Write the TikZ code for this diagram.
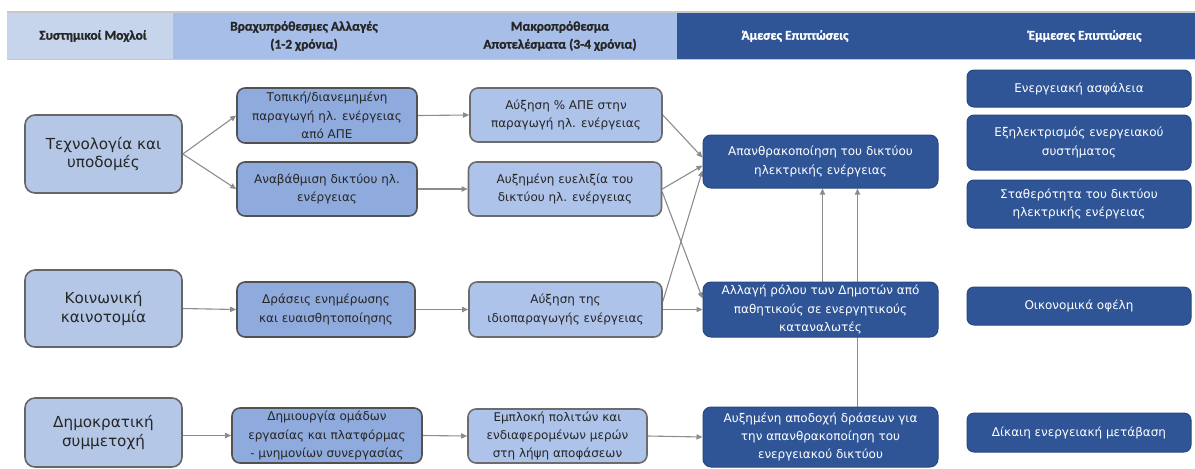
\documentclass[tikz,border=0pt]{standalone}
\usepackage{fontspec}
\setmainfont{DejaVu Sans}
\newfontfamily\headfont{Carlito Bold}[FakeBold=1.2]
\usetikzlibrary{arrows.meta,calc,backgrounds}

\definecolor{headlight}{HTML}{C6D5EC}
\definecolor{headmid}{HTML}{A7BFE8}
\definecolor{navy}{HTML}{2F5597}
\definecolor{leverfill}{HTML}{B4C7E7}
\definecolor{shortfill}{HTML}{8FAADC}
\definecolor{longfill}{HTML}{ADC3EA}
\definecolor{darktext}{HTML}{262626}
\definecolor{linkgray}{HTML}{8C8C8C}
\definecolor{rulegray}{HTML}{C8C8C8}

\tikzset{
  headlabel/.style={font=\headfont\fontsize{6.7}{9}\selectfont, align=center, inner sep=0pt},
  boxbase/.style={align=center, inner sep=1pt, font=\fontsize{6}{9.2}\selectfont},
  lever/.style={boxbase, rounded corners=5pt, draw=gray!80!black, line width=0.8pt,
    fill=leverfill, text=darktext, font=\fontsize{7.6}{9.4}\selectfont},
  shortterm/.style={boxbase, rounded corners=4pt, draw=darktext!80, line width=0.8pt,
    fill=shortfill, text=darktext},
  longterm/.style={boxbase, rounded corners=4pt, draw=gray!85!black, line width=0.8pt,
    fill=longfill, text=darktext},
  direct/.style={boxbase, rounded corners=4pt, draw=navy!85!black, line width=0.5pt,
    fill=navy, text=white},
  indirect/.style={boxbase, rounded corners=3.5pt, draw=navy!85!black, line width=0.5pt,
    fill=navy, text=white},
  link/.style={draw=linkgray, line width=0.55pt, -{Triangle[length=3pt,width=2.6pt]}},
}

\begin{document}
\begin{tikzpicture}[x=0.5pt,y=-0.5pt]
\useasboundingbox (0,0) rectangle (1195,468);

% header band
\fill[headlight] (7,12) rectangle (173,59);
\fill[headmid] (173,12) rectangle (677,59);
\fill[navy] (677,12) rectangle (907,59);
\fill[navy] (907,13) rectangle (1195,59);
\draw[rulegray, line width=0.8pt] (7,12) -- (1195,12);
\draw[rulegray, line width=0.8pt] (7,59.5) -- (1195,59.5);

\node[headlabel, text=darktext] (h1) at (93,36) {Συστημικοί Μοχλοί};
\node[headlabel, text=darktext] (h2) at (304,36) {Βραχυπρόθεσμες Αλλαγές\\(1-2 χρόνια)};
\node[headlabel, text=darktext] (h3) at (560,36) {Μακροπρόθεσμα\\Αποτελέσματα (3-4 χρόνια)};
\node[headlabel, text=white] (h4) at (795,36) {Άμεσες Επιπτώσεις};
\node[headlabel, text=white] (h5) at (1085,36) {Έμμεσες Επιπτώσεις};

% systemic levers
\node[lever, minimum width=78.5pt, minimum height=39pt] (T) at (103.5,154) {Τεχνολογία και\\υποδομές};
\node[lever, minimum width=78.5pt, minimum height=38.5pt] (K) at (103.5,308.5) {Κοινωνική\\καινοτομία};
\node[lever, minimum width=78.5pt, minimum height=34.5pt] (D) at (103.5,432.5) {Δημοκρατική\\συμμετοχή};

% short-term changes
\node[shortterm, minimum width=90pt, minimum height=27.5pt] (A1) at (327,115.5) {Τοπική/διανεμημένη\\παραγωγή ηλ. ενέργειας\\από ΑΠΕ};
\node[shortterm, minimum width=90pt, minimum height=27pt] (A2) at (327,189) {Αναβάθμιση δικτύου ηλ.\\ενέργειας};
\node[shortterm, minimum width=89pt, minimum height=27.5pt] (A3) at (326,309.5) {Δράσεις ενημέρωσης\\και ευαισθητοποίησης};
\node[shortterm, minimum width=95pt, minimum height=27.5pt] (A4) at (327,435.5) {Δημιουργία ομάδων\\εργασίας και πλατφόρμας\\- μνημονίων συνεργασίας};

% long-term results
\node[longterm, minimum width=96pt, minimum height=27pt] (B1) at (566,115) {Αύξηση \% ΑΠΕ στην\\παραγωγή ηλ. ενέργειας};
\node[longterm, minimum width=96.5pt, minimum height=27pt] (B2) at (565,189) {Αυξημένη ευελιξία του\\δικτύου ηλ. ενέργειας};
\node[longterm, minimum width=96.5pt, minimum height=27.5pt] (B3) at (565.5,309.5) {Αύξηση της\\ιδιοπαραγωγής ενέργειας};
\node[longterm, minimum width=89.5pt, minimum height=27pt] (B4) at (557.5,436) {Εμπλοκή πολιτών και\\ενδιαφερομένων μερών\\στη λήψη αποφάσεων};

% direct impacts
\node[direct, minimum width=117.5pt, minimum height=26.5pt] (C1) at (820.5,161.5) {Απανθρακοποίηση του δικτύου\\ηλεκτρικής ενέργειας};
\node[direct, minimum width=117.5pt, minimum height=27.5pt] (C2) at (820.5,309.5) {Αλλαγή ρόλου των Δημοτών από\\παθητικούς σε ενεργητικούς\\καταναλωτές};
\node[direct, minimum width=117.5pt, minimum height=30pt] (C3) at (820.5,437) {Αυξημένη αποδοχή δράσεων για\\την απανθρακοποίηση του\\ενεργειακού δικτύου};

% indirect impacts
\node[indirect, minimum width=112pt, minimum height=18.5pt] (E1) at (1079,88.5) {Ενεργειακή ασφάλεια};
\node[indirect, minimum width=112pt, minimum height=27.5pt] (E2) at (1079,142.5) {Εξηλεκτρισμός ενεργειακού\\συστήματος};
\node[indirect, minimum width=112pt, minimum height=24pt] (E3) at (1079,204) {Σταθερότητα του δικτύου\\ηλεκτρικής ενέργειας};
\node[indirect, minimum width=112pt, minimum height=19pt] (E4) at (1079,306) {Οικονομικά οφέλη};
\node[indirect, minimum width=112pt, minimum height=19.5pt] (E5) at (1079,432.5) {Δίκαιη ενεργειακή μετάβαση};

% connectors, kept behind the boxes
\begin{scope}[on background layer]
\draw[link] (T.east) -- (A1.west);
\draw[link] (T.east) -- (A2.west);
\draw[link] (K.east) -- (A3.west);
\draw[link] (A4.west -| D.east) -- (A4.west);

\draw[link] (A1.east) -- (B1.west);
\draw[link] (A2.east) -- (B2.west);
\draw[link] (A3.east) -- (B3.west);
\draw[link] (A4.east) -- (B4.west);

\draw[link] (B1.east) -- ($(C1.west)+(0,-4)$);
\draw[link] (B2.east) -- ($(C1.west)+(0,4)$);
\draw[link] ($(B2.east)+(0,3)$) -- ($(C2.west)+(0,-11)$);
\draw[link] ($(B3.east)+(0,-8)$) -- ($(C1.west)+(0,9)$);
\draw[link] (B3.east) -- (C2.west);
\draw[link] (B4.east) -- (C3.west);

\draw[link] ($(C2.north)+(2,0)$) -- ($(C1.south)+(2,0)$);
\draw[link] ($(C3.north)+(37,0)$) -- ($(C1.south)+(37,0)$);
\end{scope}
\end{tikzpicture}
\end{document}
